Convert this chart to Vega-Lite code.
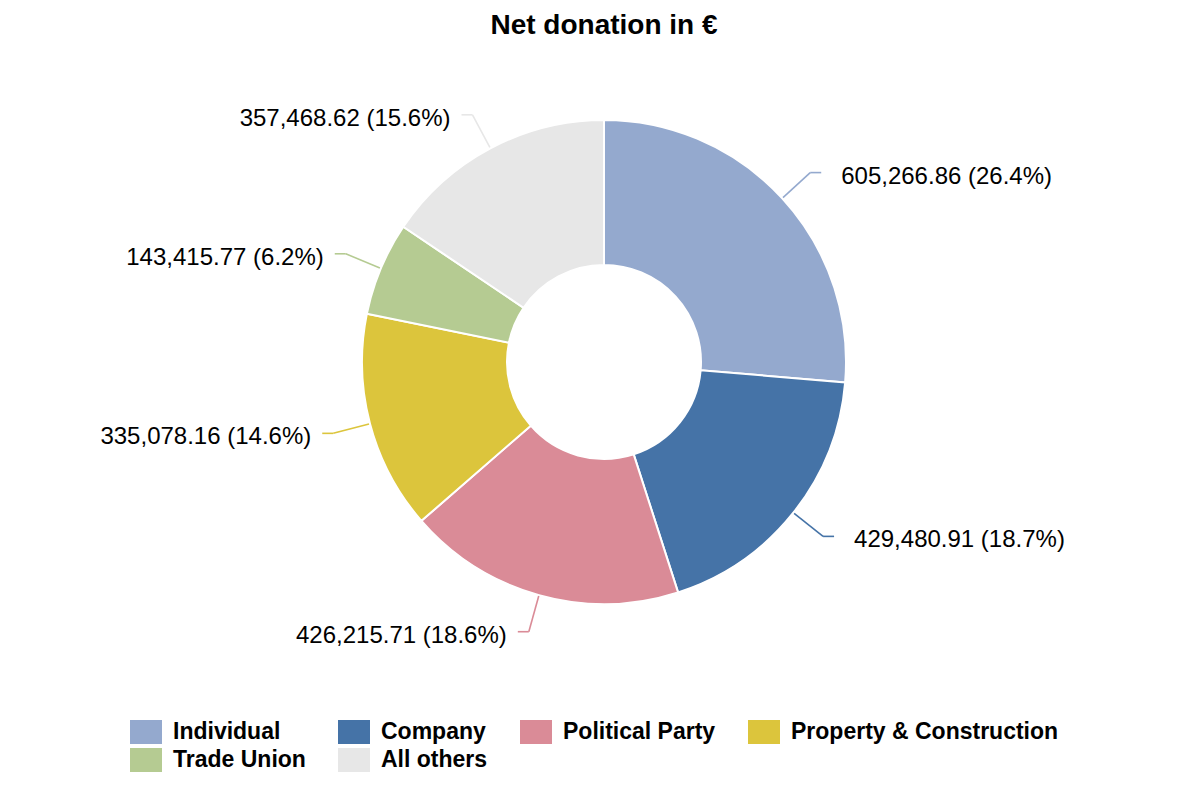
{
  "$schema": "https://vega.github.io/schema/vega-lite/v6.json",
  "width": 1192,
  "height": 600,
  "autosize": {"type": "none"},
  "padding": {"left": 8, "top": 62, "right": 0, "bottom": 138},
  "background": "white",
  "title": {
    "text": "Net donation in €",
    "font": "Liberation Sans",
    "fontSize": 28,
    "fontWeight": "bold",
    "color": "black",
    "anchor": "middle",
    "offset": 22
  },
  "data": {
    "values": [
      {"category": "Individual", "value": 605266.86},
      {"category": "Company", "value": 429480.91},
      {"category": "Political Party", "value": 426215.71},
      {"category": "Property & Construction", "value": 335078.16},
      {"category": "Trade Union", "value": 143415.77},
      {"category": "All others", "value": 357468.62}
    ]
  },
  "transform": [
    {"joinaggregate": [{"op": "sum", "field": "value", "as": "total"}]},
    {"window": [{"op": "row_number", "as": "idx"}, {"op": "sum", "field": "value", "as": "cum"}], "frame": [null, 0]},
    {"calculate": "(datum.cum - datum.value / 2) / datum.total * 2 * PI", "as": "mid"},
    {"calculate": "243 * sin(datum.mid)", "as": "sx"},
    {"calculate": "243 * cos(datum.mid)", "as": "sy"},
    {"calculate": "280 * sin(datum.mid)", "as": "ex"},
    {"calculate": "280 * cos(datum.mid)", "as": "ey"},
    {"calculate": "datum.ex + (datum.ex >= 0 ? 11 : -11)", "as": "hx"},
    {"calculate": "format(datum.value, ',.2f') + ' (' + format(datum.value / datum.total, '.1%') + ')'", "as": "label"}
  ],
  "layer": [
    {
      "mark": {"type": "arc", "outerRadius": 242, "innerRadius": 97, "stroke": "white", "strokeWidth": 2},
      "encoding": {
        "theta": {"field": "value", "type": "quantitative", "stack": true},
        "order": {"field": "idx", "type": "quantitative"},
        "color": {
          "field": "category",
          "type": "nominal",
          "scale": {
            "domain": ["Individual", "Company", "Political Party", "Property & Construction", "Trade Union", "All others"],
            "range": ["#94A9CE", "#4573A7", "#DA8B97", "#DCC53C", "#B5CB92", "#E7E7E7"]
          },
          "legend": {
            "title": null,
            "orient": "none",
            "legendX": 122,
            "legendY": 654,
            "direction": "horizontal",
            "columns": 4,
            "gridAlign": "none",
            "symbolType": "M-1,-0.75H1V0.75H-1Z",
            "symbolSize": 1024,
            "symbolStrokeWidth": 0,
            "symbolOpacity": 1,
            "labelFont": "Liberation Sans",
            "labelFontSize": 23,
            "labelFontWeight": "bold",
            "labelColor": "black",
            "labelOffset": 11,
            "labelLimit": 400,
            "columnPadding": 32,
            "rowPadding": 0
          }
        }
      }
    },
    {
      "mark": {"type": "rule", "strokeWidth": 1.6},
      "encoding": {
        "x": {"field": "sx", "type": "quantitative", "scale": {"domain": [-596, 596], "nice": false, "zero": false}, "axis": null},
        "y": {"field": "sy", "type": "quantitative", "scale": {"domain": [-300, 300], "nice": false, "zero": false}, "axis": null},
        "x2": {"field": "ex"},
        "y2": {"field": "ey"},
        "color": {"field": "category", "type": "nominal", "legend": null}
      }
    },
    {
      "mark": {"type": "rule", "strokeWidth": 1.6},
      "encoding": {
        "x": {"field": "ex", "type": "quantitative", "scale": {"domain": [-596, 596], "nice": false, "zero": false}, "axis": null},
        "y": {"field": "ey", "type": "quantitative", "scale": {"domain": [-300, 300], "nice": false, "zero": false}, "axis": null},
        "x2": {"field": "hx"},
        "color": {"field": "category", "type": "nominal", "legend": null}
      }
    },
    {
      "transform": [{"filter": "datum.ex >= 0"}],
      "mark": {"type": "text", "align": "left", "baseline": "middle", "dx": 31, "dy": 4, "font": "Liberation Sans", "fontSize": 24, "color": "black"},
      "encoding": {
        "x": {"field": "ex", "type": "quantitative", "scale": {"domain": [-596, 596], "nice": false, "zero": false}, "axis": null},
        "y": {"field": "ey", "type": "quantitative", "scale": {"domain": [-300, 300], "nice": false, "zero": false}, "axis": null},
        "text": {"field": "label"}
      }
    },
    {
      "transform": [{"filter": "datum.ex < 0"}],
      "mark": {"type": "text", "align": "right", "baseline": "middle", "dx": -22, "dy": 4, "font": "Liberation Sans", "fontSize": 24, "color": "black"},
      "encoding": {
        "x": {"field": "ex", "type": "quantitative", "scale": {"domain": [-596, 596], "nice": false, "zero": false}, "axis": null},
        "y": {"field": "ey", "type": "quantitative", "scale": {"domain": [-300, 300], "nice": false, "zero": false}, "axis": null},
        "text": {"field": "label"}
      }
    }
  ],
  "config": {
    "view": {"stroke": null},
    "legend": {"gridAlign": "none"}
  }
}
